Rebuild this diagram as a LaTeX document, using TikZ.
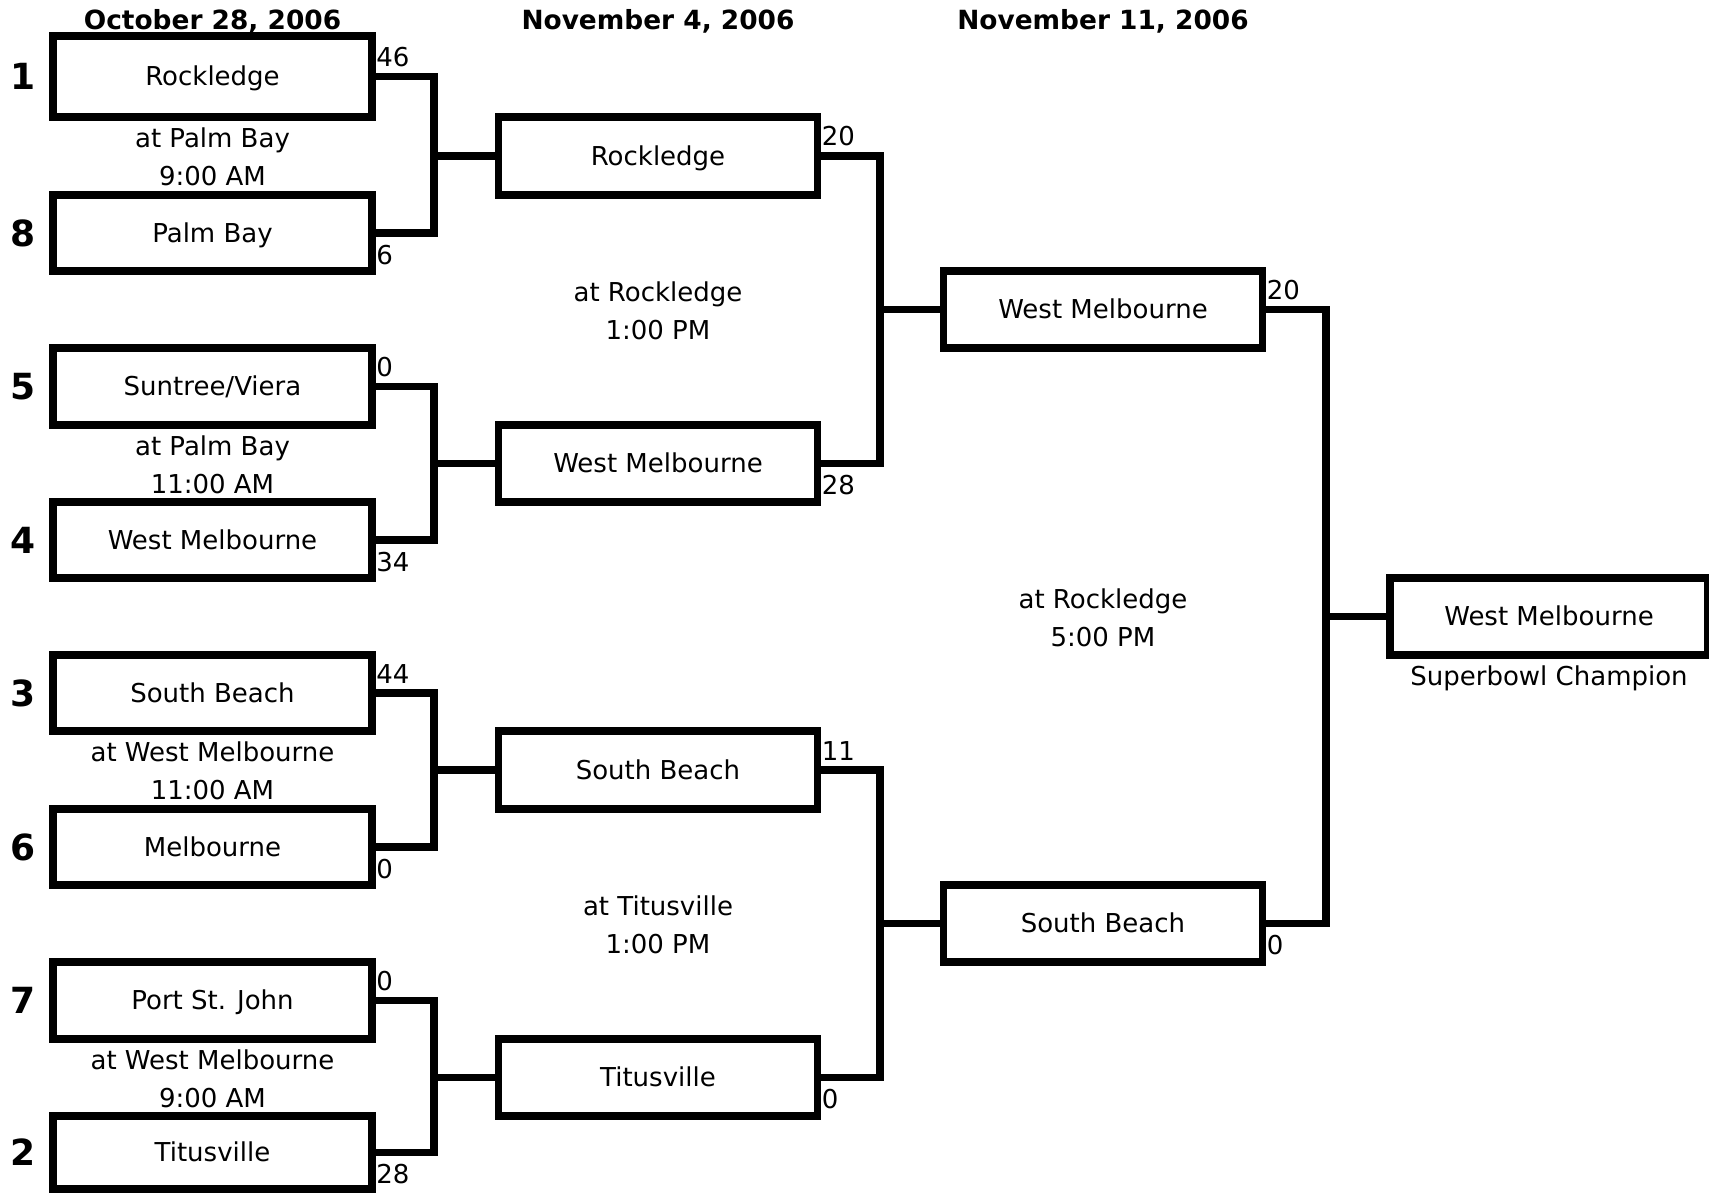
\documentclass[tikz,border=0pt]{standalone}
\usepackage{fontspec}
\setmainfont{DejaVu Sans}
\usetikzlibrary{calc}
\begin{document}
\begin{tikzpicture}[x=0.5pt,y=-0.5pt,
  team/.style={draw, line width=3.8pt, minimum width=159.5pt, inner sep=0pt, outer sep=0pt,
    font=\fontsize{13pt}{15pt}\selectfont, text height=9.2pt, text depth=0pt},
  conn/.style={line width=3.8pt, line join=miter},
  score/.style={inner sep=0pt, anchor=base west, font=\fontsize{13pt}{15pt}\selectfont},
  venue/.style={inner sep=0pt, anchor=base, font=\fontsize{13pt}{15pt}\selectfont},
  hdr/.style={inner sep=0pt, anchor=base, font=\bfseries\fontsize{13.2pt}{15pt}\selectfont},
  seed/.style={inner sep=0pt, anchor=base, font=\bfseries\fontsize{18pt}{20pt}\selectfont},
]
\useasboundingbox (0,0) rectangle (1709,1193);

% headers
\node[hdr] (h1) at (212.5,29.5) {October 28, 2006};
\node[hdr] (h2) at (658,29.5) {November 4, 2006};
\node[hdr] (h3) at (1103,29.5) {November 11, 2006};

% round 1
\node[team, minimum height=40.5pt] (t1) at (212.5,76.5) {Rockledge};
\node[team, minimum height=38pt]   (t8) at (212.5,233) {Palm Bay};
\node[team, minimum height=38.5pt] (t5) at (212.5,386.5) {Suntree/Viera};
\node[team, minimum height=38pt]   (t4) at (212.5,540) {West Melbourne};
\node[team, minimum height=38pt]   (t3) at (212.5,693) {South Beach};
\node[team, minimum height=38pt]   (t6) at (212.5,847) {Melbourne};
\node[team, minimum height=38.5pt] (t7) at (212.5,1000.5) {Port St. John};
\node[team, minimum height=36.5pt] (t2) at (212.5,1152.5) {Titusville};

% seeds
\node[seed] (n1) at (23,89.6) {1};
\node[seed] (n8) at (23,246) {8};
\node[seed] (n5) at (23,399.6) {5};
\node[seed] (n4) at (23,553) {4};
\node[seed] (n3) at (23,706) {3};
\node[seed] (n6) at (23,860) {6};
\node[seed] (n7) at (23,1013.6) {7};
\node[seed] (n2) at (23,1165.6) {2};

% round 2
\node[team, minimum height=39pt]   (m1) at (658,156) {Rockledge};
\node[team, minimum height=38.5pt] (m2) at (658,463.5) {West Melbourne};
\node[team, minimum height=39pt]   (m3) at (658,770) {South Beach};
\node[team, minimum height=38.5pt] (m4) at (658,1077.5) {Titusville};

% round 3
\node[team, minimum height=38.5pt] (s1) at (1103,309.5) {West Melbourne};
\node[team, minimum height=38.5pt] (s2) at (1103,923.5) {South Beach};

% final
\node[team, minimum height=38.5pt, minimum width=159pt] (f) at (1549,616.5) {West Melbourne};
\node[venue] (fc) at (1549,685.5) {Superbowl Champion};

% junctions
\coordinate (j1) at (434,156);
\coordinate (j2) at (434,463.5);
\coordinate (j3) at (434,770);
\coordinate (j4) at (434,1077.5);
\coordinate (k1) at (880,309.5);
\coordinate (k2) at (880,923.5);
\coordinate (l1) at (1326,616.5);

% connectors
\draw[conn] (t1.east) -| (j1) |- (t8.east);
\draw[conn] (j1) -- (m1.west);
\draw[conn] (t5.east) -| (j2) |- (t4.east);
\draw[conn] (j2) -- (m2.west);
\draw[conn] (t3.east) -| (j3) |- (t6.east);
\draw[conn] (j3) -- (m3.west);
\draw[conn] (t7.east) -| (j4) |- (t2.east);
\draw[conn] (j4) -- (m4.west);
\draw[conn] (m1.east) -| (k1) |- (m2.east);
\draw[conn] (k1) -- (s1.west);
\draw[conn] (m3.east) -| (k2) |- (m4.east);
\draw[conn] (k2) -- (s2.west);
\draw[conn] (s1.east) -| (l1) |- (s2.east);
\draw[conn] (l1) -- (f.west);

% scores
\node[score] (c1) at ($(t1.east)+(4,-10)$) {46};
\node[score] (c8) at ($(t8.east)+(4,31)$) {6};
\node[score] (c5) at ($(t5.east)+(4,-10)$) {0};
\node[score] (c4) at ($(t4.east)+(4,31)$) {34};
\node[score] (c3) at ($(t3.east)+(4,-10)$) {44};
\node[score] (c6) at ($(t6.east)+(4,31)$) {0};
\node[score] (c7) at ($(t7.east)+(4,-10)$) {0};
\node[score] (c2) at ($(t2.east)+(4,31)$) {28};
\node[score] (cm1) at ($(m1.east)+(4,-10)$) {20};
\node[score] (cm2) at ($(m2.east)+(4,31)$) {28};
\node[score] (cm3) at ($(m3.east)+(4,-10)$) {11};
\node[score] (cm4) at ($(m4.east)+(4,31)$) {0};
\node[score] (cs1) at ($(s1.east)+(4,-10)$) {20};
\node[score] (cs2) at ($(s2.east)+(4,31)$) {0};

% venues
\node[venue] (va1) at (212.5,147.5) {at Palm Bay};
\node[venue] (vb1) at (212.5,185.5) {9:00 AM};
\node[venue] (va2) at (212.5,455.5) {at Palm Bay};
\node[venue] (vb2) at (212.5,493.5) {11:00 AM};
\node[venue] (va3) at (212.5,761.5) {at West Melbourne};
\node[venue] (vb3) at (212.5,799.5) {11:00 AM};
\node[venue] (va4) at (212.5,1069.5) {at West Melbourne};
\node[venue] (vb4) at (212.5,1107.5) {9:00 AM};
\node[venue] (wa1) at (658,301.5) {at Rockledge};
\node[venue] (wb1) at (658,339.5) {1:00 PM};
\node[venue] (wa2) at (658,915.5) {at Titusville};
\node[venue] (wb2) at (658,953.5) {1:00 PM};
\node[venue] (xa1) at (1103,608.5) {at Rockledge};
\node[venue] (xb1) at (1103,646.5) {5:00 PM};
\end{tikzpicture}
\end{document}
